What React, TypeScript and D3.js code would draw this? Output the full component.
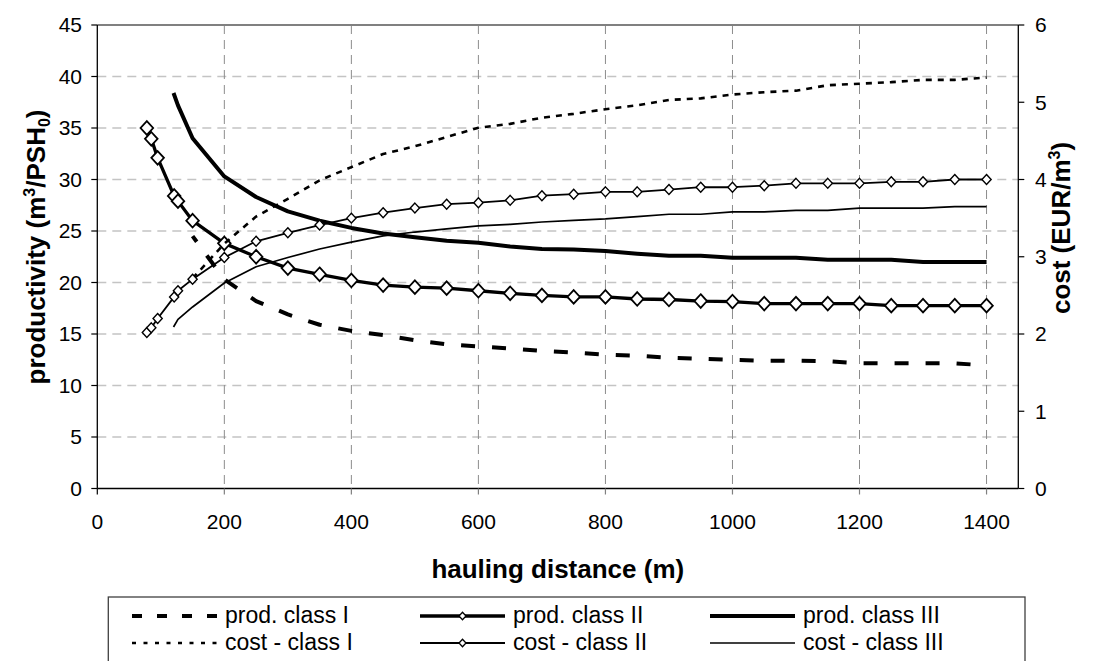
import React from 'react';
import * as d3 from 'd3';

const width = 1093,
  height = 661;

// plot frame (px)
const left = 97.3, right = 1018.3, top = 25, bottom = 488.5;

// hauling distance (m) for each group of series
const distI = [150, 200, 250, 300, 350, 400, 450, 500, 550, 600, 650, 700, 750, 800, 850, 900, 950, 1000, 1050, 1100, 1150, 1200, 1250, 1300, 1350, 1400];
const distII = [78, 85, 95, 121, 127, 150, 200, 250, 300, 350, 400, 450, 500, 550, 600, 650, 700, 750, 800, 850, 900, 950, 1000, 1050, 1100, 1150, 1200, 1250, 1300, 1350, 1400];
const distIII = [120, 127, 150, 200, 250, 300, 350, 400, 450, 500, 550, 600, 650, 700, 750, 800, 850, 900, 950, 1000, 1050, 1100, 1150, 1200, 1250, 1300, 1350, 1400];

// productivity (m3/PSH0)
const prodI = [24.5, 20.3, 18.2, 16.9, 15.9, 15.3, 14.9, 14.4, 14.0, 13.8, 13.6, 13.35, 13.2, 13.0, 12.9, 12.7, 12.6, 12.5, 12.4, 12.4, 12.35, 12.15, 12.15, 12.15, 12.15, 11.95];
const prodII = [35.0, 33.95, 32.1, 28.4, 27.9, 26.0, 23.8, 22.5, 21.4, 20.8, 20.2, 19.75, 19.55, 19.45, 19.2, 18.95, 18.75, 18.6, 18.6, 18.4, 18.35, 18.2, 18.15, 17.95, 17.95, 17.95, 17.95, 17.75, 17.75, 17.75, 17.75];
const prodIII = [38.4, 37.2, 34.0, 30.3, 28.3, 26.9, 26.0, 25.3, 24.75, 24.4, 24.05, 23.85, 23.5, 23.25, 23.2, 23.05, 22.8, 22.6, 22.6, 22.4, 22.4, 22.4, 22.2, 22.2, 22.2, 22.0, 22.0, 22.0];

// cost (EUR/m3)
const costI = [2.72, 3.17, 3.52, 3.75, 3.99, 4.16, 4.33, 4.43, 4.55, 4.67, 4.72, 4.8, 4.85, 4.91, 4.96, 5.03, 5.05, 5.1, 5.13, 5.15, 5.22, 5.24, 5.26, 5.29, 5.29, 5.32];
const costII = [2.02, 2.08, 2.2, 2.48, 2.56, 2.71, 2.99, 3.2, 3.31, 3.41, 3.5, 3.57, 3.63, 3.68, 3.7, 3.73, 3.79, 3.81, 3.84, 3.84, 3.87, 3.9, 3.9, 3.92, 3.95, 3.95, 3.95, 3.97, 3.97, 4.0, 4.0];
const costIII = [2.09, 2.19, 2.35, 2.66, 2.87, 2.99, 3.1, 3.19, 3.27, 3.32, 3.36, 3.4, 3.42, 3.45, 3.47, 3.49, 3.52, 3.55, 3.55, 3.58, 3.58, 3.6, 3.6, 3.63, 3.63, 3.63, 3.65, 3.65];

const xTicks = [0, 200, 400, 600, 800, 1000, 1200, 1400];
const yTicks = [0, 5, 10, 15, 20, 25, 30, 35, 40, 45];
const y2Ticks = [0, 1, 2, 3, 4, 5, 6];

const font = "'Liberation Sans', Arial, sans-serif";

const x = d3.scaleLinear().domain([0, 1450]).range([left, right]);
const yL = d3.scaleLinear().domain([0, 45]).range([bottom, top]);
const yR = d3.scaleLinear().domain([0, 6]).range([bottom, top]);

const series = [
  { label: 'prod. class I', xs: distI, ys: prodI, y: yL, w: 4, dash: '14 17', off: 7, mk: 0, legDash: '10 15' },
  { label: 'prod. class II', xs: distII, ys: prodII, y: yL, w: 3.3, dash: null, off: 0, mk: 6.3, legDash: null },
  { label: 'prod. class III', xs: distIII, ys: prodIII, y: yL, w: 4, dash: null, off: 0, mk: 0, legDash: null },
  { label: 'cost - class I', xs: distI, ys: costI, y: yR, w: 2.6, dash: '6 6', off: 0, mk: 0, legDash: '4 7.5' },
  { label: 'cost - class II', xs: distII, ys: costII, y: yR, w: 1.8, dash: null, off: 0, mk: 4.6, legDash: null },
  { label: 'cost - class III', xs: distIII, ys: costIII, y: yR, w: 1.7, dash: null, off: 0, mk: 0, legDash: null },
];

const diamond = (cx, cy, r) =>
  `M${cx},${cy - r * 1.08}L${cx + r},${cy}L${cx},${cy + r * 1.08}L${cx - r},${cy}Z`;

// legend layout: rows x cols
const legCols = [132, 420, 710];
const legRows = [616, 643];

export default function App() {
  return (
    <svg width={width} height={height} style={{ position: 'absolute', left: 0, top: 0, background: '#fff' }}
      fontFamily={font}>
      <rect x={0} y={0} width={width} height={height} fill="#fff" />

      {/* gridlines */}
      {yTicks.filter(t => t > 0 && t < 45).map(t => (
        <line key={'gy' + t} x1={left} x2={right} y1={yL(t)} y2={yL(t)}
          stroke="#c4c4c4" strokeWidth={1.5} strokeDasharray="9 6" />
      ))}
      {xTicks.filter(t => t > 0).map(t => (
        <line key={'gx' + t} x1={x(t)} x2={x(t)} y1={top} y2={bottom}
          stroke="#8c8c8c" strokeWidth={1} strokeDasharray="9 6" />
      ))}

      {/* frame */}
      <line x1={left} x2={right} y1={top} y2={top} stroke="#808080" strokeWidth={2} />
      <line x1={left} x2={left} y1={top} y2={bottom} stroke="#000" strokeWidth={1.3} />
      <line x1={right} x2={right} y1={top} y2={bottom} stroke="#000" strokeWidth={1.3} />
      <line x1={left} x2={right} y1={bottom} y2={bottom} stroke="#000" strokeWidth={1.3} />

      {/* axes ticks + labels */}
      {yTicks.map(t => (
        <g key={'yt' + t}>
          <line x1={left - 6} x2={left} y1={yL(t)} y2={yL(t)} stroke="#000" strokeWidth={1.2} />
          <text x={82} y={yL(t)} dy="0.35em" textAnchor="end" fontSize={21}>{t}</text>
        </g>
      ))}
      {y2Ticks.map(t => (
        <g key={'y2t' + t}>
          <line x1={right} x2={right + 6} y1={yR(t)} y2={yR(t)} stroke="#000" strokeWidth={1.2} />
          <text x={1035} y={yR(t)} dy="0.35em" textAnchor="start" fontSize={21}>{t}</text>
        </g>
      ))}
      {xTicks.map(t => (
        <g key={'xt' + t}>
          <line x1={x(t)} x2={x(t)} y1={bottom} y2={bottom + 6} stroke={t === 0 ? '#000' : '#808080'} strokeWidth={1.2} />
          <text x={x(t)} y={529} textAnchor="middle" fontSize={21}>{t}</text>
        </g>
      ))}

      {/* axis titles */}
      <text x={(left + right) / 2} y={578} textAnchor="middle" fontSize={26} fontWeight="bold">hauling distance (m)</text>
      <text transform={`translate(45,247) rotate(-90)`} textAnchor="middle" fontSize={26} fontWeight="bold">
        productivity (m<tspan dy={-10} fontSize={16}>3</tspan><tspan dy={10}>/PSH</tspan><tspan dy={5} fontSize={16}>0</tspan><tspan dy={-5}>)</tspan>
      </text>
      <text transform={`translate(1070,228) rotate(-90)`} textAnchor="middle" fontSize={26} fontWeight="bold">
        cost (EUR/m<tspan dy={-10} fontSize={16}>3</tspan><tspan dy={10}>)</tspan>
      </text>

      {/* series */}
      {series.map((s, si) => {
        const line = d3.line<number>().x((_, i) => x(s.xs[i])).y(d => s.y(d));
        return (
          <g key={'s' + si}>
            <path d={line(s.ys) || ''} fill="none" stroke="#000" strokeWidth={s.w}
              strokeDasharray={s.dash || undefined} strokeDashoffset={s.off} strokeLinejoin="round" />
            {s.mk > 0 && s.ys.map((v, i) => (
              <path key={i} d={diamond(x(s.xs[i]), s.y(v), s.mk)} fill="#fff" stroke="#000"
                strokeWidth={s.mk > 5 ? 1.8 : 1.4} />
            ))}
          </g>
        );
      })}

      {/* legend */}
      <rect x={108.3} y={597} width={916.7} height={80} fill="#fff" stroke="#404040" strokeWidth={1.3} />
      {series.map((s, si) => {
        const cx = legCols[si % 3];
        const cy = legRows[Math.floor(si / 3)];
        return (
          <g key={'l' + si}>
            <line x1={cx} x2={cx + 85} y1={cy} y2={cy} stroke="#000" strokeWidth={s.w}
              strokeDasharray={s.legDash || undefined} />
            {s.mk > 0 && (
              <path d={diamond(cx + 42.5, cy, 3.5)} fill="#fff" stroke="#000" strokeWidth={1.3} />
            )}
            <text x={cx + 93} y={cy + 7} fontSize={23}>{s.label}</text>
          </g>
        );
      })}
    </svg>
  );
}
